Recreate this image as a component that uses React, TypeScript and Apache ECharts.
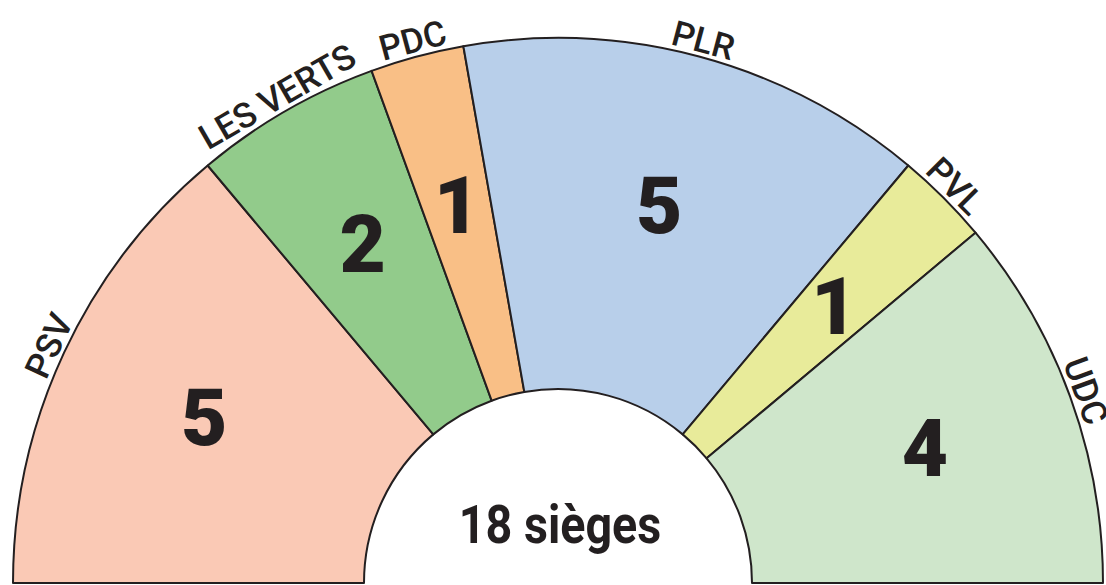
import React, { useEffect, useRef } from "react";
import * as echarts from "echarts";

const parties = ["PSV", "LES VERTS", "PDC", "PLR", "PVL", "UDC"];
const seats = [5, 2, 1, 5, 1, 4];
const colors = ["#fac9b5", "#92cb8b", "#f9bf86", "#b8cfea", "#e8eb9a", "#cfe6cb"];
const totalLabel = "18 sièges";

const FONT = 'Roboto, "Liberation Sans", sans-serif';
const INK = "#231f20";

export default function App() {
  const ref = useRef<HTMLDivElement>(null);
  useEffect(() => {
    if (!ref.current) return;
    const chart = echarts.init(ref.current, undefined, { renderer: "svg" });
    const center = [558, 583];
    const base = {
      type: "pie",
      center,
      startAngle: 180,
      endAngle: 0,
      clockwise: true,
      avoidLabelOverlap: false,
      labelLine: { show: false },
      emphasis: { disabled: true },
      minAngle: 0,
    };
    chart.setOption({
      animation: false,
      series: [
        {
          ...base,
          radius: [194, 545],
          itemStyle: { borderColor: INK, borderWidth: 2 },
          label: { show: false },
          data: parties.map((p, i) => ({ name: p, value: seats[i], itemStyle: { color: colors[i] } })),
          z: 1,
        },
        {
          ...base,
          silent: true,
          radius: [230, 545],
          itemStyle: { color: "rgba(0,0,0,0)", borderWidth: 0 },
          label: {
            show: true,
            position: "inside",
            formatter: "{c}",
            fontFamily: FONT,
            fontWeight: 900,
            fontSize: 80,
            color: INK,
          },
          data: parties.map((p, i) => ({ name: p, value: seats[i] })),
          z: 2,
        },
        {
          ...base,
          silent: true,
          radius: [543, 573],
          itemStyle: { color: "rgba(0,0,0,0)", borderWidth: 0 },
          label: {
            show: true,
            position: "inside",
            rotate: "tangential",
            formatter: "{b}",
            fontFamily: FONT,
            fontWeight: 500,
            fontSize: 35,
            color: INK,
          },
          data: parties.map((p, i) => ({ name: p, value: seats[i] })),
          z: 2,
        },
      ],
      graphic: [
        {
          type: "text",
          x: 560,
          y: 525,
          scaleX: 0.88,
          style: {
            text: totalLabel,
            fontFamily: FONT,
            fontWeight: "bold",
            fontSize: 53,
            fill: INK,
            textAlign: "center",
            textVerticalAlign: "middle",
          },
        },
      ],
    });
    return () => chart.dispose();
  }, []);
  return (
    <div
      ref={ref}
      style={{ position: "absolute", left: 0, top: 0, width: 1106, height: 585, background: "#fff" }}
    />
  );
}
